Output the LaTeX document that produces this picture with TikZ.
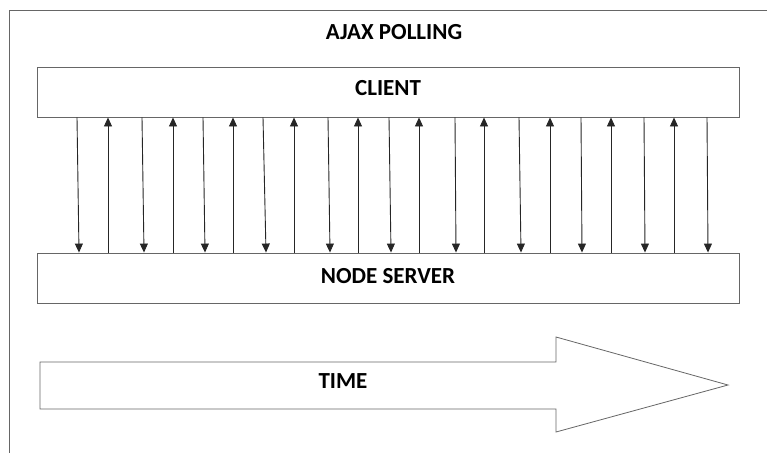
\documentclass[tikz,border=0pt]{standalone}
\usepackage{fontspec}
\setmainfont{Carlito}
\usetikzlibrary{arrows.meta}
\begin{document}
\begin{tikzpicture}[x=1pt,y=-1pt,
  boxline/.style={draw=black!60, line width=0.9pt},
  lbl/.style={font=\bfseries\fontsize{23}{27}\selectfont, text=black},
  msg/.style={draw=black!85, line width=0.9pt, -{Triangle[width=8pt,length=9pt]}}]
\useasboundingbox (0,0) rectangle (767,453);
% frame
\draw[boxline] (767,10) -- (9,10) -- (9,453);
\node[lbl] (title) at (394,32) {AJAX POLLING};
% client and server boxes
\node[boxline, rectangle, minimum width=702pt, minimum height=50pt, inner sep=0pt] (client) at (388,92) {};
\node[lbl] (clientlbl) at (388,88) {CLIENT};
\node[boxline, rectangle, minimum width=702pt, minimum height=50pt, inner sep=0pt] (server) at (388,278) {};
\node[lbl] (serverlbl) at (388,276) {NODE SERVER};
% down arrows (client -> server)
\foreach \a/\b in {77/79, 142/144, 203/205, 263/266, 328/330, 389/391, 455/456, 519/521, 581/582, 644/645, 707/708}{
  \draw[msg] (client.south -| \a,0) -- (server.north -| \b,0);
}
% up arrows (server -> client)
\foreach \a in {108, 173, 233, 294, 358, 419, 484, 550, 611, 674}{
  \draw[msg] (server.north -| \a,0) -- (client.south -| \a,0);
}
% time arrow
\draw[boxline, line width=0.8pt] (40,362) -- (556,362) -- (556,337) -- (728,385) -- (556,432) -- (556,409) -- (40,409) -- cycle;
\node[lbl] (time) at (343,381) {TIME};
\end{tikzpicture}
\end{document}
